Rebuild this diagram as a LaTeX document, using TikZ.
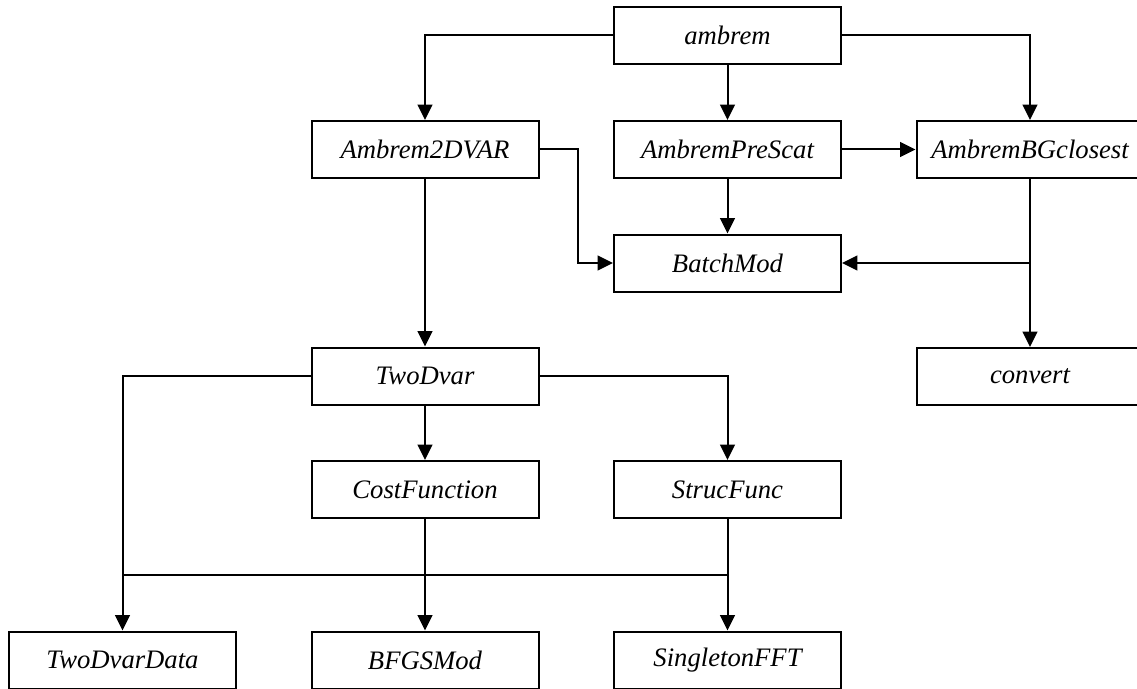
\documentclass[tikz,border=0pt]{standalone}
\usepackage{fontspec}
\setmainfont{Liberation Serif}
\usepackage{tikz}
\usetikzlibrary{arrows.meta}

\tikzset{
  modbox/.style={draw, line width=1.5pt, minimum width=170.25pt, minimum height=42.75pt,
    inner sep=0pt, font=\fontsize{20pt}{24pt}\selectfont\itshape},
  link/.style={line width=1.5pt},
  arr/.style={link, -{Triangle[length=11.5pt,width=11pt]}}
}

\begin{document}
\begin{tikzpicture}[x=0.75pt,y=0.75pt,yscale=-1,xscale=1]
\useasboundingbox (0,0) rectangle (1137,688);

% Boxes
\node [modbox] (ambrem) at (727.5,35.5) {ambrem};
\node [modbox] (a2dvar) at (425,149.5) {Ambrem2DVAR};
\node [modbox] (prescat) at (727.5,149.5) {AmbremPreScat};
\node [modbox] (bgclosest) at (1030,149.5) {AmbremBGclosest};
\node [modbox] (batchmod) at (727.5,263) {BatchMod};
\node [modbox] (twodvar) at (425,376) {TwoDvar};
\node [modbox] (convert) at (1030,376.5) {convert};
\node [modbox] (costfn) at (425,489.5) {CostFunction};
\node [modbox] (strucfn) at (727.5,489.5) {StrucFunc};
\node [modbox] (tddata) at (122.5,660) {TwoDvarData};
\node [modbox] (bfgs) at (425,660) {BFGSMod};
\node [modbox] (singleton) at (727.5,660) {SingletonFFT};

%Straight Lines
\draw [arr] (ambrem.west) -| (a2dvar.north);
\draw [arr] (ambrem.south) -- (prescat.north);
\draw [arr] (ambrem.east) -| (bgclosest.north);
\draw [arr] (prescat.east) -- (bgclosest.west);
\draw [arr] (a2dvar.east) -- ++(38,0) |- (batchmod.west);
\draw [arr] (prescat.south) -- (batchmod.north);
\draw [arr] (bgclosest.south) -- (convert.north);
\draw [arr] (bgclosest.south |- batchmod.east) -- (batchmod.east);
\draw [arr] (a2dvar.south) -- (twodvar.north);
\draw [arr] (twodvar.west) -| (tddata.north);
\draw [arr] (twodvar.south) -- (costfn.north);
\draw [arr] (twodvar.east) -| (strucfn.north);
\draw [arr] (costfn.south) -- (bfgs.north);
\draw [arr] (strucfn.south) -- (singleton.north);

% shared bus
\coordinate (bus) at (0,575);
\draw [link] (tddata.north |- bus) -- (singleton.north |- bus);

\end{tikzpicture}
\end{document}
